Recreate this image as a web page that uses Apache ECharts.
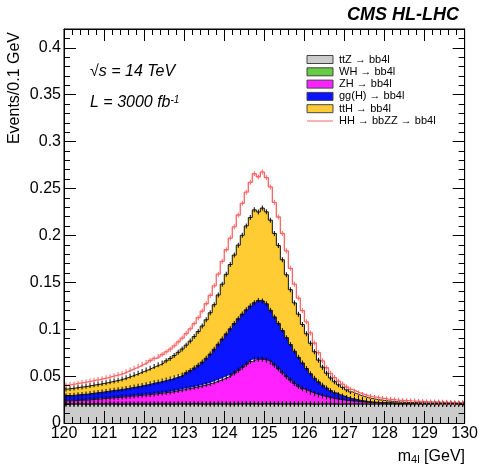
<!DOCTYPE html>
<html><head><meta charset="utf-8">
<script src="https://cdn.jsdelivr.net/npm/echarts@6/dist/echarts.min.js"></script>
<style>html,body{margin:0;padding:0;background:#fff}#c{width:481px;height:469px}</style>
</head><body><div id="c"></div>
<script>
// m4l histogram: 100 bins of 0.1 GeV from 120 to 130 GeV
const binLowEdge = 120, binWidth = 0.1, nBins = 100;

const ttZ = [0.0201,0.0200,0.0200,0.0201,0.0200,0.0199,0.0200,0.0201,0.0200,0.0200,
 0.0200,0.0201,0.0200,0.0199,0.0200,0.0200,0.0201,0.0200,0.0200,0.0200,
 0.0199,0.0200,0.0201,0.0200,0.0200,0.0200,0.0199,0.0200,0.0201,0.0200,
 0.0200,0.0200,0.0201,0.0200,0.0199,0.0200,0.0200,0.0201,0.0200,0.0200,
 0.0200,0.0199,0.0200,0.0201,0.0200,0.0200,0.0200,0.0201,0.0199,0.0200,
 0.0200,0.0201,0.0200,0.0200,0.0199,0.0200,0.0201,0.0200,0.0200,0.0200,
 0.0201,0.0200,0.0199,0.0200,0.0200,0.0201,0.0200,0.0200,0.0199,0.0200,
 0.0200,0.0200,0.0201,0.0200,0.0200,0.0199,0.0200,0.0201,0.0200,0.0200,
 0.0200,0.0201,0.0200,0.0199,0.0200,0.0200,0.0200,0.0201,0.0200,0.0200,
 0.0199,0.0200,0.0200,0.0201,0.0200,0.0200,0.0200,0.0199,0.0200,0.0201];

const WH = [0.0003,0.0003,0.0003,0.0003,0.0003,0.0003,0.0003,0.0003,0.0003,0.0003,
 0.0003,0.0003,0.0003,0.0003,0.0003,0.0003,0.0003,0.0003,0.0003,0.0003,
 0.0003,0.0003,0.0003,0.0003,0.0003,0.0003,0.0003,0.0003,0.0003,0.0003,
 0.0004,0.0004,0.0004,0.0004,0.0004,0.0004,0.0004,0.0004,0.0004,0.0004,
 0.0004,0.0004,0.0004,0.0004,0.0005,0.0005,0.0005,0.0005,0.0005,0.0005,
 0.0005,0.0005,0.0005,0.0005,0.0005,0.0004,0.0004,0.0004,0.0004,0.0004,
 0.0004,0.0004,0.0004,0.0004,0.0004,0.0004,0.0004,0.0004,0.0004,0.0004,
 0.0003,0.0003,0.0003,0.0003,0.0003,0.0003,0.0003,0.0003,0.0003,0.0003,
 0.0003,0.0003,0.0003,0.0003,0.0003,0.0003,0.0003,0.0003,0.0003,0.0003,
 0.0003,0.0003,0.0003,0.0003,0.0003,0.0003,0.0003,0.0003,0.0003,0.0003];

const ZH = [0.0032,0.0034,0.0036,0.0038,0.0040,0.0043,0.0046,0.0049,0.0053,0.0057,
 0.0060,0.0063,0.0067,0.0071,0.0074,0.0078,0.0082,0.0086,0.0090,0.0094,
 0.0098,0.0102,0.0106,0.0112,0.0117,0.0123,0.0129,0.0136,0.0143,0.0151,
 0.0161,0.0168,0.0176,0.0186,0.0196,0.0206,0.0218,0.0232,0.0248,0.0266,
 0.0284,0.0304,0.0328,0.0356,0.0388,0.0421,0.0451,0.0468,0.0476,0.0474,
 0.0464,0.0444,0.0411,0.0371,0.0331,0.0290,0.0251,0.0216,0.0186,0.0161,
 0.0141,0.0124,0.0109,0.0095,0.0083,0.0072,0.0063,0.0055,0.0048,0.0042,
 0.0037,0.0032,0.0028,0.0024,0.0021,0.0018,0.0016,0.0014,0.0012,0.0011,
 0.0010,0.0009,0.0008,0.0007,0.0006,0.0006,0.0005,0.0005,0.0004,0.0004,
 0.0004,0.0003,0.0003,0.0003,0.0002,0.0002,0.0002,0.0002,0.0001,0.0001];

const ggH = [0.0054,0.0056,0.0058,0.0060,0.0062,0.0063,0.0065,0.0067,0.0069,0.0071,
 0.0074,0.0077,0.0079,0.0081,0.0084,0.0087,0.0090,0.0094,0.0098,0.0103,
 0.0108,0.0113,0.0118,0.0122,0.0127,0.0132,0.0137,0.0143,0.0150,0.0157,
 0.0170,0.0186,0.0205,0.0225,0.0250,0.0280,0.0313,0.0349,0.0388,0.0425,
 0.0462,0.0497,0.0528,0.0550,0.0568,0.0580,0.0590,0.0608,0.0625,0.0622,
 0.0602,0.0552,0.0515,0.0485,0.0450,0.0416,0.0380,0.0345,0.0310,0.0275,
 0.0235,0.0197,0.0165,0.0139,0.0116,0.0096,0.0078,0.0063,0.0051,0.0041,
 0.0032,0.0026,0.0020,0.0016,0.0012,0.0009,0.0006,0.0004,0.0003,0.0002,
 0.0001,0.0001,0.0001,0.0001,0.0001,0.0001,0.0001,0.0001,0.0001,0.0001,
 0.0001,0.0001,0.0001,0.0001,0.0001,0.0001,0.0001,0.0001,0.0001,0.0001];

const ttH = [0.0072,0.0074,0.0076,0.0078,0.0080,0.0083,0.0085,0.0087,0.0088,0.0090,
 0.0092,0.0095,0.0099,0.0103,0.0108,0.0115,0.0123,0.0131,0.0140,0.0149,
 0.0157,0.0166,0.0175,0.0183,0.0192,0.0205,0.0220,0.0237,0.0257,0.0278,
 0.0295,0.0315,0.0335,0.0360,0.0385,0.0410,0.0440,0.0475,0.0525,0.0585,
 0.0635,0.0685,0.0730,0.0785,0.0840,0.0895,0.0945,0.0990,0.0945,0.0990,
 0.0980,0.0960,0.0890,0.0830,0.0755,0.0670,0.0585,0.0515,0.0460,0.0410,
 0.0370,0.0325,0.0282,0.0232,0.0192,0.0158,0.0135,0.0118,0.0105,0.0093,
 0.0082,0.0071,0.0062,0.0054,0.0047,0.0041,0.0036,0.0032,0.0028,0.0025,
 0.0021,0.0018,0.0015,0.0013,0.0011,0.0009,0.0008,0.0007,0.0007,0.0006,
 0.0005,0.0005,0.0005,0.0004,0.0005,0.0004,0.0004,0.0003,0.0004,0.0004];

const HH = [0.0042,0.0043,0.0044,0.0045,0.0046,0.0047,0.0048,0.0049,0.0050,0.0052,
 0.0053,0.0055,0.0057,0.0059,0.0061,0.0064,0.0067,0.0070,0.0073,0.0076,
 0.0079,0.0082,0.0085,0.0088,0.0091,0.0095,0.0099,0.0104,0.0110,0.0116,
 0.0123,0.0130,0.0138,0.0148,0.0159,0.0171,0.0185,0.0201,0.0221,0.0243,
 0.0262,0.0282,0.0301,0.0321,0.0341,0.0360,0.0375,0.0385,0.0375,0.0385,
 0.0365,0.0355,0.0330,0.0305,0.0280,0.0255,0.0228,0.0200,0.0172,0.0148,
 0.0128,0.0110,0.0094,0.0080,0.0068,0.0058,0.0050,0.0044,0.0039,0.0035,
 0.0030,0.0027,0.0025,0.0023,0.0021,0.0021,0.0021,0.0021,0.0021,0.0021,
 0.0020,0.0020,0.0019,0.0019,0.0019,0.0019,0.0018,0.0017,0.0016,0.0015,
 0.0014,0.0013,0.0012,0.0011,0.0010,0.0010,0.0009,0.0008,0.0007,0.0007];

const processNames = ['ttZ \u2192 bb4l','WH \u2192 bb4l','ZH \u2192 bb4l','gg(H) \u2192 bb4l','ttH \u2192 bb4l','HH \u2192 bbZZ \u2192 bb4l'];
const processColors = ['#cccccc','#66cc44','#ff22ff','#0a14ff','#ffcc33','#ff6464'];
const processValues = [ttZ, WH, ZH, ggH, ttH, HH];

const xTickMin = 120, xTickMax = 130, xTickStep = 1;
const yTickMin = 0, yTickMax = 0.42, yTickStep = 0.05, yMinorStep = 0.01;

const FONT = '"Liberation Sans", Arial, Helvetica, sans-serif';

const edges = [];
for (let i = 0; i <= nBins; i++) edges.push(+(binLowEdge + i * binWidth).toFixed(2));
// value first, x second (so that the stacked dimension is the y value)
const stepData = arr => edges.map((e, i) => [arr[Math.min(i, nBins - 1)], e]);
const centerData = arr => arr.map((v, i) => [v, +(binLowEdge + (i + 0.5) * binWidth).toFixed(3)]);

const series = [];
processValues.forEach((arr, k) => {
  const isHH = k === 5;
  series.push({
    name: processNames[k], type: 'line', stack: 'hist', step: 'end',
    data: stepData(arr), encode: { x: 1, y: 0 },
    symbol: 'none', silent: true, animation: false,
    lineStyle: { color: isHH ? processColors[k] : '#111', width: isHH ? 1.3 : 1 },
    areaStyle: isHH ? undefined : { color: processColors[k], opacity: 1 },
    z: 10 - k
  });
});
processValues.forEach((arr, k) => {
  const isHH = k === 5;
  series.push({
    type: 'line', stack: 'err', data: centerData(arr), encode: { x: 1, y: 0 },
    symbol: 'rect', symbolSize: [1, 5], showAllSymbol: true, silent: true, animation: false,
    itemStyle: { color: isHH ? processColors[k] : '#000' },
    lineStyle: { width: 0, opacity: 0 },
    z: 12
  });
});

const tickCol = '#000';
const xAx = (pos, labels) => ({
  type: 'value', position: pos, min: xTickMin, max: xTickMax, interval: xTickStep, z: 20,
  axisLine: { show: true, onZero: false, lineStyle: { color: tickCol, width: 1 } },
  axisTick: { show: true, inside: true, length: 12, lineStyle: { color: tickCol } },
  minorTick: { show: true, splitNumber: 5, length: 6, lineStyle: { color: tickCol } },
  axisLabel: { show: labels, color: '#000', fontSize: 16, fontFamily: FONT, margin: 3 },
  splitLine: { show: false }, minorSplitLine: { show: false }
});
const yAx = (pos, step, len, labels) => ({
  type: 'value', position: pos, min: yTickMin, max: yTickMax, interval: step, z: 20,
  axisLine: { show: labels !== null, onZero: false, lineStyle: { color: tickCol, width: 1 } },
  axisTick: { show: true, inside: true, length: len, lineStyle: { color: tickCol } },
  axisLabel: { show: !!labels, showMaxLabel: false, color: '#000', fontSize: 16, fontFamily: FONT, margin: 3 },
  splitLine: { show: false }
});

const legendTop = [59.5, 71.8, 84.1, 96.4, 108.7, 121];
const graphic = [];
legendTop.forEach((yc, k) => {
  if (k < 5) {
    graphic.push({ type: 'rect', shape: { x: 307, y: yc - 4, width: 26, height: 8 },
      style: { fill: processColors[k], stroke: '#444', lineWidth: 1 }, z: 30 });
  } else {
    graphic.push({ type: 'line', shape: { x1: 307, y1: yc, x2: 333, y2: yc },
      style: { stroke: processColors[k], lineWidth: 1 }, z: 30 });
  }
  graphic.push({ type: 'text', x: 339, y: yc, z: 30,
    style: { text: processNames[k], font: '11px ' + FONT, fill: '#000', align: 'left', verticalAlign: 'middle' } });
});
graphic.push(
  { type: 'text', x: 459, y: 15, z: 30,
    style: { text: 'CMS HL-LHC', font: 'italic bold 18px ' + FONT, fill: '#000', align: 'right', verticalAlign: 'middle' } },
  { type: 'text', x: 90, y: 72, z: 30,
    style: { text: '\u221As = 14 TeV', font: 'italic 16px ' + FONT, fill: '#000', align: 'left', verticalAlign: 'middle' } },
  { type: 'text', x: 90, y: 103, z: 30,
    style: { text: '{a|L = 3000 fb}{s|-1}', align: 'left', verticalAlign: 'middle',
      rich: { a: { font: 'italic 16px ' + FONT, fill: '#000' }, s: { font: 'italic 10px ' + FONT, fill: '#000', verticalAlign: 'top' } } } },
  { type: 'text', x: 465, y: 457, z: 30,
    style: { text: '{a|m}{b|4l}{a| [GeV]}', align: 'right', verticalAlign: 'middle',
      rich: { a: { font: '16px ' + FONT, fill: '#000' }, b: { font: '11px ' + FONT, fill: '#000', verticalAlign: 'bottom' } } } },
  { type: 'text', x: 15, y: 32, rotation: Math.PI / 2, z: 30,
    style: { text: 'Events/0.1 GeV', font: '16px ' + FONT, fill: '#000', align: 'right', verticalAlign: 'middle' } }
);

const chart = echarts.init(document.getElementById('c'), null, { renderer: 'canvas' });
chart.setOption({
  animation: false,
  backgroundColor: '#fff',
  grid: { left: 64, right: 16, top: 29, bottom: 46, show: true, borderColor: '#000', borderWidth: 1, backgroundColor: 'transparent' },
  xAxis: [xAx('bottom', true), xAx('top', false)],
  yAxis: [yAx('left', yTickStep, 12, true), yAx('right', yTickStep, 12, false), yAx('left', yMinorStep, 6, null), yAx('right', yMinorStep, 6, null)],
  series: series,
  graphic: graphic
});
</script></body></html>
